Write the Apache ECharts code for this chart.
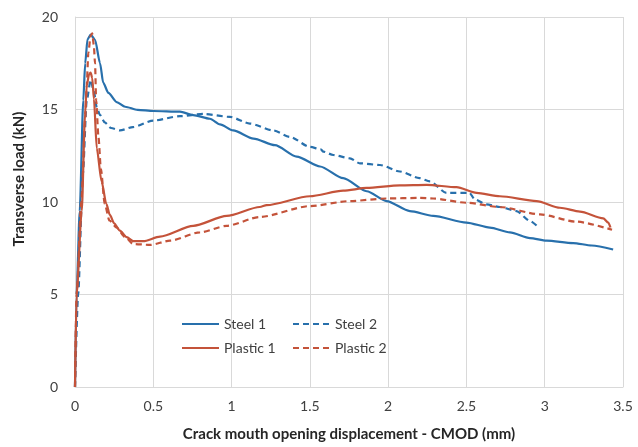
<!DOCTYPE html>
<html>
<head>
<meta charset="utf-8">
<script src="https://cdn.jsdelivr.net/npm/echarts@6/dist/echarts.min.js"></script>
<style>html,body{margin:0;padding:0;background:#fff}#c{width:638px;height:447px}</style>
</head>
<body>
<div id="c"></div>
<script>
var xTicks = [0, 0.5, 1, 1.5, 2, 2.5, 3, 3.5];
var yTicks = [0, 5, 10, 15, 20];
var seriesNames = ['Steel 1', 'Steel 2', 'Plastic 1', 'Plastic 2'];
var xTitle = 'Crack mouth opening displacement - CMOD (mm)';
var yTitle = 'Transverse load (kN)';

var steel1X = [0, 0.01, 0.03, 0.053, 0.065, 0.08, 0.1, 0.128, 0.16, 0.18, 0.213, 0.266, 0.32, 0.4, 0.5, 0.67, 0.755, 0.862, 0.926, 1.01, 1.14, 1.277, 1.416, 1.565, 1.713, 1.863, 1.99, 2.139, 2.288, 2.5, 2.65, 2.778, 2.906, 3.012, 3.182, 3.3, 3.437];
var steel1Y = [0, 5, 9.5, 15.5, 17.5, 18.8, 19.05, 18.77, 17.5, 16.45, 15.9, 15.4, 15.15, 14.98, 14.92, 14.88, 14.7, 14.5, 14.2, 13.87, 13.43, 13.07, 12.45, 11.92, 11.29, 10.58, 10.05, 9.51, 9.25, 8.89, 8.62, 8.36, 8.05, 7.91, 7.78, 7.65, 7.43];

var steel2X = [0, 0.02, 0.05, 0.075, 0.1, 0.12, 0.139, 0.16, 0.19, 0.23, 0.287, 0.37, 0.5, 0.67, 0.82, 0.99, 1.117, 1.266, 1.373, 1.5, 1.57, 1.586, 1.65, 1.756, 1.82, 1.948, 2.075, 2.2, 2.267, 2.373, 2.52, 2.554, 2.629, 2.714, 2.82, 2.906, 2.95];
var steel2Y = [0, 5, 11.5, 15.5, 16.6, 16.0, 15.1, 14.7, 14.3, 14.0, 13.87, 14.05, 14.4, 14.64, 14.76, 14.6, 14.24, 13.87, 13.52, 12.98, 12.85, 12.72, 12.54, 12.36, 12.09, 12.0, 11.65, 11.29, 11.11, 10.49, 10.49, 10.13, 9.87, 9.73, 9.51, 8.98, 8.71];

var plastic1X = [0, 0.01, 0.043, 0.064, 0.075, 0.09, 0.1, 0.11, 0.121, 0.139, 0.17, 0.2, 0.223, 0.25, 0.287, 0.33, 0.372, 0.436, 0.543, 0.755, 0.969, 1.18, 1.224, 1.5, 1.713, 1.863, 2.075, 2.246, 2.437, 2.565, 2.714, 2.948, 3.097, 3.225, 3.374, 3.406, 3.42];
var plastic1Y = [0, 5, 9.5, 14.7, 16.3, 16.9, 17.0, 16.7, 15.56, 12.9, 11.1, 9.9, 9.3, 8.85, 8.45, 8.1, 7.88, 7.88, 8.13, 8.71, 9.25, 9.73, 9.83, 10.31, 10.61, 10.76, 10.9, 10.93, 10.8, 10.49, 10.31, 10.05, 9.69, 9.48, 9.12, 8.89, 8.62];

var plastic2X = [0, 0.01, 0.04, 0.065, 0.075, 0.085, 0.1, 0.11, 0.12, 0.128, 0.135, 0.15, 0.165, 0.19, 0.22, 0.266, 0.32, 0.372, 0.479, 0.607, 0.798, 0.969, 1.18, 1.5, 1.756, 1.99, 2.2, 2.288, 2.5, 2.714, 2.97, 3.2, 3.43];
var plastic2Y = [0, 5, 10, 14.5, 16.3, 18.05, 19.0, 19.12, 18.5, 17.5, 15.5, 13.5, 11.8, 9.9, 9.0, 8.62, 8.1, 7.73, 7.68, 7.91, 8.36, 8.71, 9.19, 9.78, 10.05, 10.19, 10.22, 10.19, 9.96, 9.73, 9.33, 8.94, 8.5];

function pairs(xs, ys) { return xs.map(function (x, i) { return [x, ys[i]]; }); }

var BLUE = '#2870AC';
var RED = '#C4533A';
var FONT = 'Lato, "Open Sans", sans-serif';

function mk(name, xs, ys, color, dashed) {
  return {
    name: name, type: 'line', data: pairs(xs, ys), symbol: 'none',
    smooth: 0.25, smoothMonotone: 'x',
    lineStyle: { color: color, width: 2.2, type: dashed ? [6, 4] : 'solid' },
    itemStyle: { color: color },
    emphasis: { disabled: true }, animation: false
  };
}

function legendCfg(names, left) {
  return {
    data: names, orient: 'vertical', left: left, top: 317, padding: 0,
    itemWidth: 37, itemHeight: 14, itemGap: 10, selectedMode: false,
    itemStyle: { opacity: 0, borderWidth: 0 },
    textStyle: { fontFamily: FONT, fontSize: 14, color: '#404040' }
  };
}

var chart = echarts.init(document.getElementById('c'), null, { renderer: 'canvas' });
chart.setOption({
  backgroundColor: '#fff',
  animation: false,
  grid: { left: 75, right: 15, top: 17, bottom: 56, containLabel: false },
  xAxis: {
    type: 'value', min: xTicks[0], max: xTicks[xTicks.length - 1], interval: 0.5,
    name: xTitle, nameLocation: 'middle', nameGap: 40,
    nameTextStyle: { fontFamily: FONT, fontSize: 15, fontWeight: 'bold', color: '#262626' },
    axisLine: { show: true, lineStyle: { color: '#d9d9d9', width: 1 } },
    axisTick: { show: false },
    axisLabel: { fontFamily: FONT, fontSize: 14, color: '#404040', margin: 12 },
    splitLine: { show: true, lineStyle: { color: '#d9d9d9', width: 1 } }
  },
  yAxis: {
    type: 'value', min: yTicks[0], max: yTicks[yTicks.length - 1], interval: 5,
    axisLine: { show: true, lineStyle: { color: '#d9d9d9', width: 1 } },
    axisTick: { show: false },
    axisLabel: { fontFamily: FONT, fontSize: 14, color: '#404040', margin: 17 },
    splitLine: { show: true, lineStyle: { color: '#d9d9d9', width: 1 } }
  },
  graphic: [{
    type: 'text', x: 19, y: 179, rotation: Math.PI / 2, silent: true,
    style: { text: yTitle, fontFamily: FONT, fontSize: 15, fontWeight: 'bold', fill: '#262626',
             align: 'center', verticalAlign: 'middle' }
  }],
  legend: [
    legendCfg([seriesNames[0], seriesNames[2]], 181),
    legendCfg([seriesNames[1], seriesNames[3]], 292)
  ],
  series: [
    mk(seriesNames[0], steel1X, steel1Y, BLUE, false),
    mk(seriesNames[1], steel2X, steel2Y, BLUE, true),
    mk(seriesNames[2], plastic1X, plastic1Y, RED, false),
    mk(seriesNames[3], plastic2X, plastic2Y, RED, true)
  ]
});
</script>
</body>
</html>
